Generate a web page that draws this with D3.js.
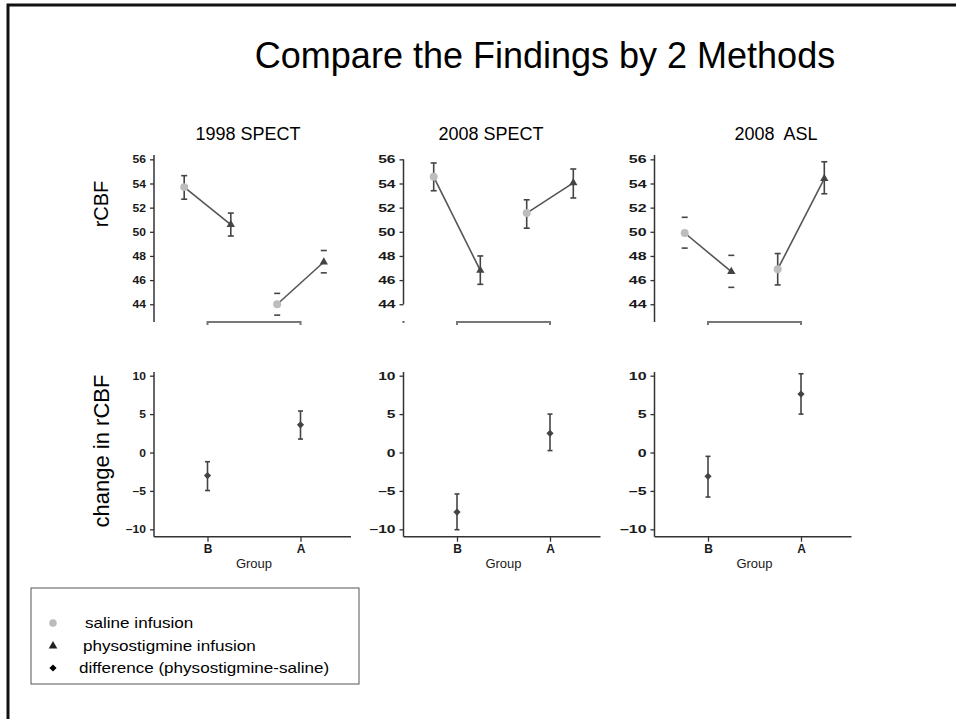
<!DOCTYPE html>
<html>
<head>
<meta charset="utf-8">
<script src="https://cdn.jsdelivr.net/npm/d3@7"></script>
<style>
  body { margin: 0; background: #fff; }
  svg { display: block; }
  text { font-family: "Liberation Sans", Arial, Helvetica, sans-serif; }
</style>
</head>
<body>
<div id="chart"></div>
<script>
// SVG area dimensions
var svgWidth = 956;
var svgHeight = 719;

// data
var groups = ["B", "A"];
var panelTitles = ["1998 SPECT", "2008 SPECT", "2008  ASL"];

// saline infusion, per panel, per group [B, A]
var salineMean = [[53.7, 44.0], [54.55, 51.55], [49.9, 46.9]];
var salineLow  = [[52.7, 43.1], [53.4, 50.3], [48.65, 45.6]];
var salineHigh = [[54.65, 44.9], [55.7, 52.65], [51.2, 48.2]];

// physostigmine infusion
var physoMean = [[50.6, 47.5], [46.8, 54.05], [46.7, 54.4]];
var physoLow  = [[49.65, 46.6], [45.65, 52.8], [45.4, 53.15]];
var physoHigh = [[51.55, 48.45], [48.0, 55.2], [48.05, 55.8]];

// difference (physostigmine - saline)
var diffMean = [[-3.0, 3.6], [-7.75, 2.5], [-3.1, 7.6]];
var diffLow  = [[-4.95, 1.75], [-10.05, 0.25], [-5.8, 5.0]];
var diffHigh = [[-1.2, 5.4], [-5.4, 5.0], [-0.5, 10.25]];

var rcbfTicks = [44, 46, 48, 50, 52, 54, 56];
var changeTicks = [-10, -5, 0, 5, 10];
var changeTickLabels = ["\u201310", "\u20135", "0", "5", "10"];

var legendLabels = ["saline infusion", "physostigmine infusion", "difference (physostigmine-saline)"];

// layout
var axisX = [154, 403.5, 654.5];
var titleX = [248, 491, 776];
var labelStretch = [1.1, 1.42, 1.45];
var stemHidden = [["A"], [], ["B"]];   // only the caps show in the picture
var pairOffset = 23.3;

var svg = d3.select("#chart")
  .append("svg")
  .attr("width", svgWidth)
  .attr("height", svgHeight);

// slide frame (top and left edge)
svg.append("path")
  .attr("d", "M8," + svgHeight + "V5H" + svgWidth)
  .attr("fill", "none")
  .attr("stroke", "#111")
  .attr("stroke-width", 3);

svg.append("text")
  .attr("x", 545)
  .attr("y", 68)
  .attr("text-anchor", "middle")
  .attr("font-size", "36px")
  .attr("fill", "#000")
  .text("Compare the Findings by 2 Methods");

// y axis titles
svg.append("text")
  .attr("transform", "translate(108,204) rotate(-90)")
  .attr("text-anchor", "middle")
  .attr("font-size", "20px")
  .text("rCBF");

svg.append("text")
  .attr("transform", "translate(109,451) rotate(-90)")
  .attr("text-anchor", "middle")
  .attr("font-size", "22px")
  .text("change in rCBF");

var yTop = d3.scaleLinear().domain([42.53, 56.36]).range([322, 155]);
var yBot = d3.scaleLinear().domain([-10.96, 10.48]).range([536.7, 372]);

// diamond = square turned 45 degrees (wider than d3.symbolDiamond)
var diamond = d3.symbol(d3.symbolSquare, 26)();

function errorBar(g, xPos, lo, hi, y, showStem, capW) {
  if (showStem) {
    g.append("line")
      .attr("x1", xPos).attr("x2", xPos)
      .attr("y1", y(lo)).attr("y2", y(hi))
      .attr("stroke", "#444").attr("stroke-width", 1.6);
  }
  [lo, hi].forEach(function(v) {
    g.append("line")
      .attr("x1", xPos - capW).attr("x2", xPos + capW)
      .attr("y1", y(v)).attr("y2", y(v))
      .attr("stroke", "#444").attr("stroke-width", 1.6);
  });
}

function styleTicks(axisG, sx, labels) {
  axisG.select(".domain").remove();
  axisG.selectAll(".tick line").attr("stroke", "#333").attr("stroke-width", 1.3);
  axisG.selectAll(".tick text")
    .attr("font-size", "11px")
    .attr("font-weight", "bold")
    .attr("fill", "#1a1a1a")
    .attr("x", -8 / sx)
    .attr("transform", "scale(" + sx + ",1)");
  if (labels) axisG.selectAll(".tick text").text(function(d, i) { return labels[i]; });
}

for (var p = 0; p < 3; p++) {
  var ax = axisX[p];
  var x = d3.scalePoint().domain(groups).range([ax + 53.5, ax + 146.5]);
  var g = svg.append("g");

  g.append("text")
    .attr("x", titleX[p])
    .attr("y", 140)
    .attr("text-anchor", "middle")
    .attr("font-size", "18px")
    .style("white-space", "pre")
    .text(panelTitles[p]);

  // ---- top panel: rCBF
  var yAxisTop = g.append("g")
    .attr("transform", "translate(" + ax + ",0)")
    .call(d3.axisLeft(yTop).tickValues(rcbfTicks).tickSize(4).tickPadding(4));
  styleTicks(yAxisTop, labelStretch[p]);

  if (p === 1) {
    g.append("line")
      .attr("x1", ax).attr("x2", ax)
      .attr("y1", yTop(56)).attr("y2", yTop(44))
      .attr("stroke", "#333").attr("stroke-width", 1.5);
    g.append("rect")
      .attr("x", ax - 1).attr("y", yTop(42.53) - 1)
      .attr("width", 2).attr("height", 2)
      .attr("fill", "#666");
  } else {
    g.append("line")
      .attr("x1", ax).attr("x2", ax)
      .attr("y1", yTop(56.36)).attr("y2", yTop(42.53))
      .attr("stroke", "#333").attr("stroke-width", 1.5);
  }

  // bracket under the groups
  g.append("path")
    .attr("d", "M" + x("B") + "," + (yTop(42.53) + 3) + "V" + yTop(42.53) +
               "H" + x("A") + "V" + (yTop(42.53) + 3))
    .attr("fill", "none")
    .attr("stroke", "#777")
    .attr("stroke-width", 2);

  groups.forEach(function(grp, gi) {
    var xs = x(grp) - pairOffset;
    var xp = x(grp) + pairOffset;
    var showStem = stemHidden[p].indexOf(grp) < 0;

    g.append("line")
      .attr("x1", xs).attr("y1", yTop(salineMean[p][gi]))
      .attr("x2", xp).attr("y2", yTop(physoMean[p][gi]))
      .attr("stroke", "#555").attr("stroke-width", 1.6);

    errorBar(g, xs, salineLow[p][gi], salineHigh[p][gi], yTop, showStem, 3);
    errorBar(g, xp, physoLow[p][gi], physoHigh[p][gi], yTop, showStem, 3);

    g.append("path")
      .attr("transform", "translate(" + xs + "," + yTop(salineMean[p][gi]) + ")")
      .attr("d", d3.symbol(d3.symbolCircle, 50)())
      .attr("fill", "#bdbdbd");
    g.append("path")
      .attr("transform", "translate(" + xp + "," + yTop(physoMean[p][gi]) + ")")
      .attr("d", d3.symbol(d3.symbolTriangle, 30)())
      .attr("fill", "#444");
  });

  // ---- bottom panel: change in rCBF
  var yAxisBot = g.append("g")
    .attr("transform", "translate(" + ax + ",0)")
    .call(d3.axisLeft(yBot).tickValues(changeTicks).tickSize(4).tickPadding(4));
  styleTicks(yAxisBot, labelStretch[p], changeTickLabels);

  g.append("line")
    .attr("x1", ax).attr("x2", ax)
    .attr("y1", yBot.range()[1]).attr("y2", yBot.range()[0])
    .attr("stroke", "#333").attr("stroke-width", 1.5);

  var xAxisBot = g.append("g")
    .attr("transform", "translate(0," + yBot.range()[0] + ")")
    .call(d3.axisBottom(x).tickSize(5).tickPadding(3));
  xAxisBot.select(".domain").remove();
  xAxisBot.selectAll(".tick line").attr("stroke", "#333").attr("stroke-width", 1.3);
  xAxisBot.selectAll(".tick text")
    .attr("font-size", "12px")
    .attr("font-weight", "bold")
    .attr("fill", "#1a1a1a");

  g.append("line")
    .attr("x1", ax).attr("x2", ax + 197)
    .attr("y1", yBot.range()[0]).attr("y2", yBot.range()[0])
    .attr("stroke", "#333").attr("stroke-width", 1.5);

  g.append("text")
    .attr("x", ax + 100)
    .attr("y", 568)
    .attr("text-anchor", "middle")
    .attr("font-size", "13px")
    .attr("fill", "#1a1a1a")
    .text("Group");

  groups.forEach(function(grp, gi) {
    errorBar(g, x(grp), diffLow[p][gi], diffHigh[p][gi], yBot, true, 2.5);
    g.append("path")
      .attr("transform", "translate(" + x(grp) + "," + yBot(diffMean[p][gi]) + ") rotate(45)")
      .attr("d", diamond)
      .attr("fill", "#444");
  });
}

// legend
var legend = svg.append("g");
legend.append("rect")
  .attr("x", 31).attr("y", 588)
  .attr("width", 328).attr("height", 96)
  .attr("fill", "none")
  .attr("stroke", "#555")
  .attr("stroke-width", 1);

var legendSymbols = [d3.symbolCircle, d3.symbolTriangle, d3.symbolSquare];
var legendFill = ["#bbb", "#222", "#000"];
var legendSize = [45, 32, 26];
var legendRotate = [0, 0, 45];
var legendRowY = [623, 646, 668];
var legendTextX = [85, 83, 79];
var legendStretch = 1.22;

legendLabels.forEach(function(label, i) {
  legend.append("path")
    .attr("transform", "translate(53," + legendRowY[i] + ") rotate(" + legendRotate[i] + ")")
    .attr("d", d3.symbol(legendSymbols[i], legendSize[i])())
    .attr("fill", legendFill[i]);
  legend.append("text")
    .attr("transform", "translate(" + legendTextX[i] + "," + (legendRowY[i] + 5) + ") scale(" + legendStretch + ",1)")
    .attr("font-size", "14px")
    .attr("fill", "#000")
    .text(label);
});
</script>
</body>
</html>
